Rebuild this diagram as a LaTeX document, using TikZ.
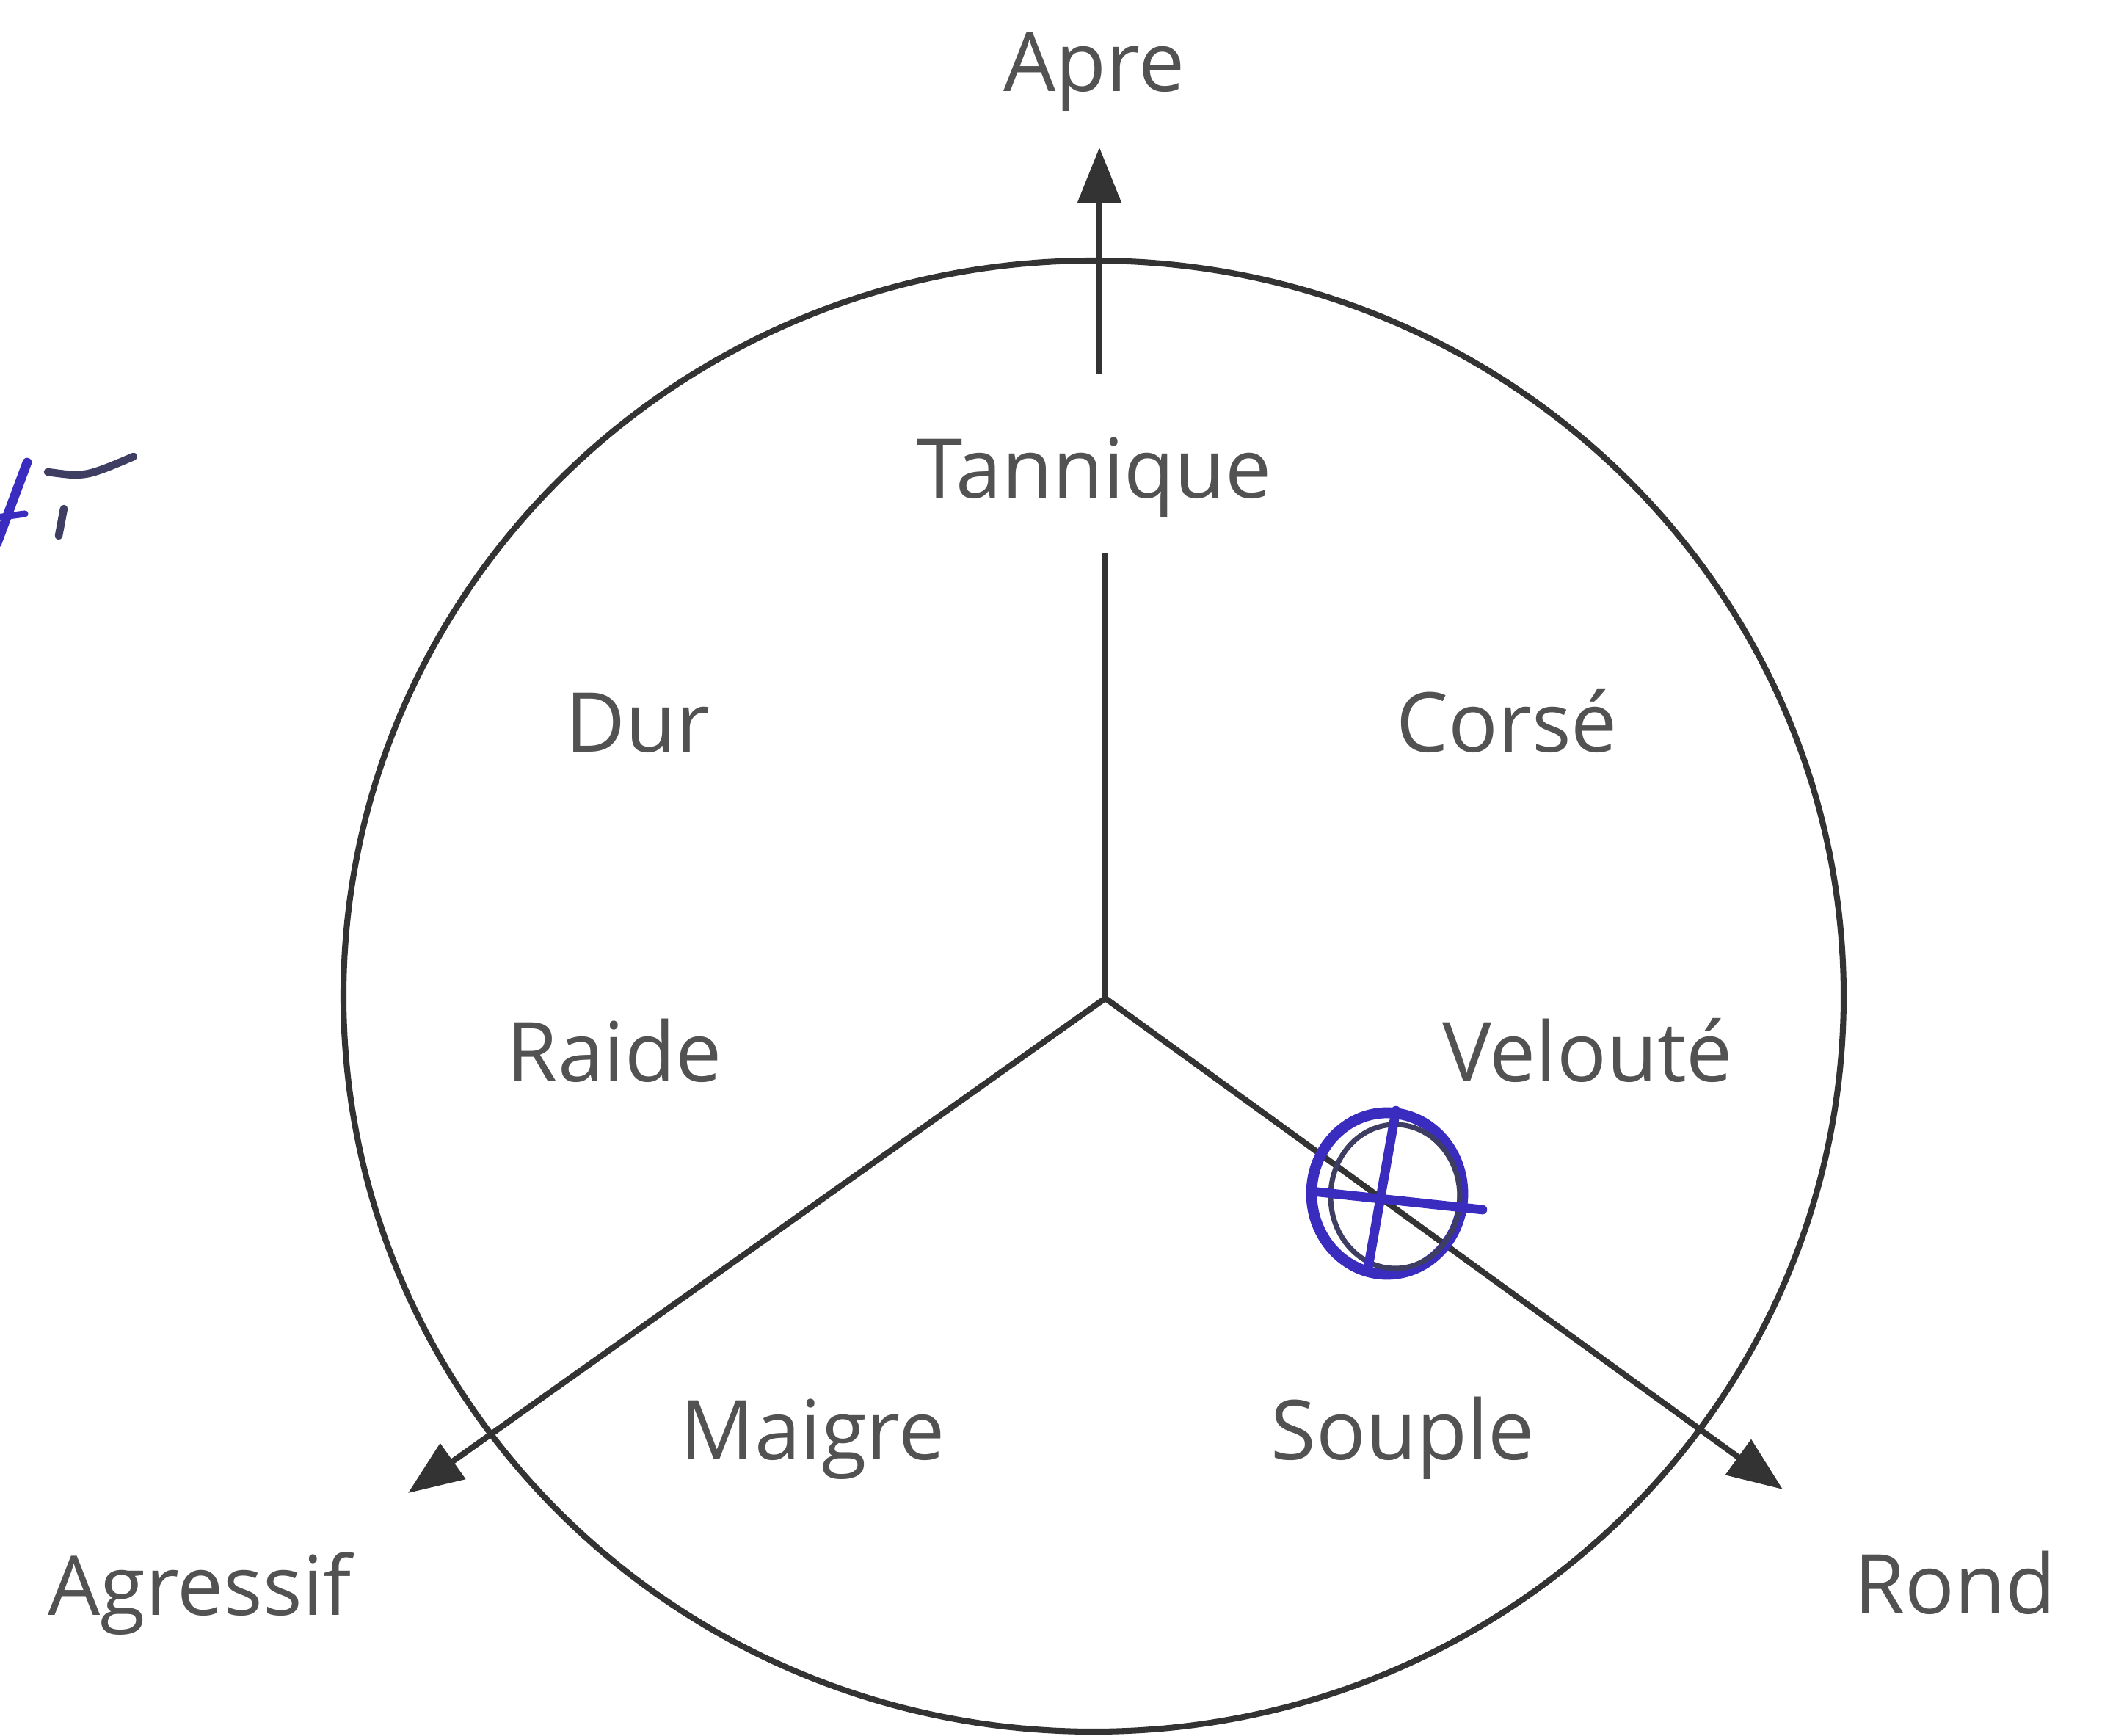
\documentclass[tikz,border=0pt]{standalone}
\usepackage{fontspec}
\setmainfont{Open Sans}
\usetikzlibrary{arrows.meta}
\definecolor{encre}{RGB}{58,44,190}
\definecolor{encregris}{RGB}{62,62,98}

\begin{document}
\begin{tikzpicture}[>=Latex,
  lbl/.style={anchor=base,text=black!68,font=\fontsize{32}{38}\selectfont,inner sep=0pt},
  axe/.style={line width=2.3pt,draw=black!80},
  fleche/.style={axe,-{Triangle[length=7.5mm,width=5.8mm]}},
  stylo/.style={line width=3.6pt,draw=encre,line cap=round}]
\useasboundingbox (-15.06,-10.05) rectangle (13.73,13.60);
\fill[white] (-15.06,-10.05) rectangle (13.73,13.60);
% roue
\draw[axe] (-0.16,0.03) ellipse [x radius=10.22, y radius=10.02];
% axes
\coordinate (o) at (0,0);
\coordinate (hautbas) at (0,6.07);
\coordinate (hauthaut) at (-0.08,8.51);
\coordinate (pApre) at (-0.08,11.59);
\coordinate (pAgressif) at (-9.50,-6.74);
\coordinate (pRond) at (9.23,-6.69);
\draw[axe] (o)--(hautbas);
\draw[fleche] (hauthaut)--(pApre);
\draw[fleche] (o)--(pAgressif);
\draw[fleche] (o)--(pRond);
% textes
\node[lbl] (apre) at (-0.15,12.35) {Apre};
\node[lbl] (tannique) at (-0.15,6.81) {Tannique};
\node[lbl] (dur) at (-6.37,3.35) {Dur};
\node[lbl] (corse) at (5.47,3.35) {Corsé};
\node[lbl] (raide) at (-6.69,-1.14) {Raide};
\node[lbl] (veloute) at (6.57,-1.14) {Velouté};
\node[lbl] (maigre) at (-3.99,-6.28) {Maigre};
\node[lbl] (souple) at (4.05,-6.28) {Souple};
\node[lbl] (agressif) at (-12.34,-8.40) {Agressif};
\node[lbl] (rond) at (11.58,-8.38) {Rond};
% annotations a la main
\draw[stylo,line width=4.2pt] (3.84,-2.66) ellipse [x radius=1.03, y radius=1.10];
\draw[stylo,line width=2pt,draw=encregris] (3.95,-2.70) ellipse [x radius=0.88, y radius=0.98];
\draw[stylo] (3.96,-1.53)--(3.57,-3.73);
\draw[stylo] (2.81,-2.63)--(5.14,-2.88);
\draw[stylo] (-15.10,6.20)--(-14.69,7.30);
\draw[stylo,line width=2.6pt] (-15.10,6.55)--(-14.72,6.60);
\draw[stylo,draw=encregris,line width=3pt] (-14.41,7.17) .. controls (-13.9,7.10) .. (-13.24,7.38);
\draw[stylo,draw=encregris,line width=3pt] (-14.19,6.67)--(-14.26,6.30);
\end{tikzpicture}
\end{document}
